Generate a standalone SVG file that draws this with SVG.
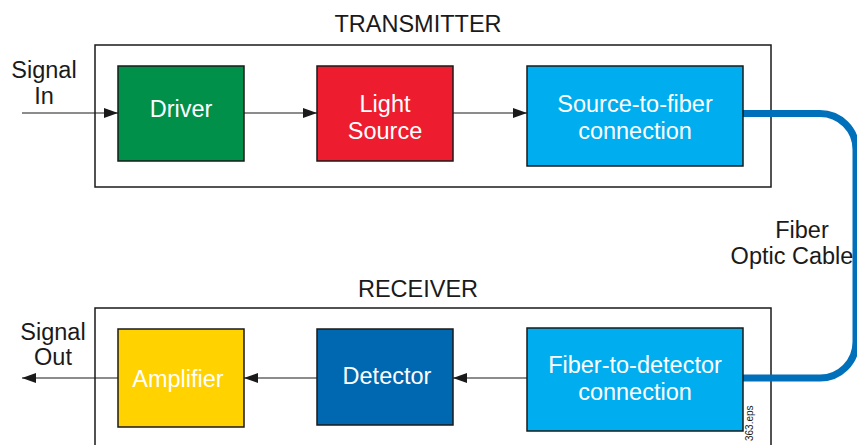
<svg xmlns="http://www.w3.org/2000/svg" width="857" height="445" viewBox="0 0 857 445">
<style>
text{font-family:"Liberation Sans",Arial,sans-serif;font-size:23.5px;fill:#1a1a1a}
.w{fill:#fff}
.frame{fill:none;stroke:#1a1a1a;stroke-width:1.5}
.box{stroke:#1a1a1a;stroke-width:1.5}
.ln{stroke:#1a1a1a;stroke-width:1.2;fill:none}
</style>
<defs>
<marker id="ah" viewBox="0 0 14 10" refX="14" refY="5" markerWidth="14" markerHeight="10" markerUnits="userSpaceOnUse" orient="auto">
<path d="M0,0 L14,5 L0,10 Z" fill="#1a1a1a"/>
</marker>
</defs>
<text x="418" y="32" text-anchor="middle">TRANSMITTER</text>
<text x="418" y="297" text-anchor="middle">RECEIVER</text>
<rect class="frame" x="95" y="45" width="676" height="142"/>
<rect class="frame" x="95" y="308" width="676" height="150"/>
<g id="connectors">
<line class="ln" x1="22" y1="113" x2="118" y2="113" marker-end="url(#ah)"/>
<line class="ln" x1="244" y1="113" x2="317" y2="113" marker-end="url(#ah)"/>
<line class="ln" x1="453" y1="113" x2="527" y2="113" marker-end="url(#ah)"/>
<line class="ln" x1="527" y1="378" x2="453" y2="378" marker-end="url(#ah)"/>
<line class="ln" x1="317" y1="378" x2="244" y2="378" marker-end="url(#ah)"/>
<line class="ln" x1="118" y1="378" x2="22" y2="378" marker-end="url(#ah)"/>
<path d="M743,113.5 H820 A36,36 0 0 1 856,149.5 V342 A36,36 0 0 1 820,378 H743" fill="none" stroke="#0070BA" stroke-width="7"/>
</g>
<g id="driver"><rect class="box" x="118" y="66" width="126" height="95" fill="#00904A"/><text class="w" x="181" y="117" text-anchor="middle">Driver</text></g>
<g id="light-source"><rect class="box" x="317" y="66" width="136" height="95" fill="#ED1C2E"/><text class="w" x="385" y="112" text-anchor="middle">Light</text><text class="w" x="385" y="139" text-anchor="middle">Source</text></g>
<g id="source-to-fiber"><rect class="box" x="527" y="66" width="216" height="100" fill="#00AEEF"/><text class="w" x="635" y="112" text-anchor="middle">Source-to-fiber</text><text class="w" x="635" y="139" text-anchor="middle">connection</text></g>
<g id="amplifier"><rect class="box" x="118" y="329" width="126" height="98" fill="#FFD200"/><text class="w" x="178" y="387" text-anchor="middle">Amplifier</text></g>
<g id="detector"><rect class="box" x="317" y="329" width="136" height="96" fill="#0067B1"/><text class="w" x="387" y="384" text-anchor="middle">Detector</text></g>
<g id="fiber-to-detector"><rect class="box" x="527" y="328" width="216" height="103" fill="#00AEEF"/><text class="w" x="635" y="373" text-anchor="middle">Fiber-to-detector</text><text class="w" x="635" y="400" text-anchor="middle">connection</text></g>
<text x="44" y="78" text-anchor="middle">Signal</text>
<text x="44" y="104" text-anchor="middle">In</text>
<text x="53" y="340" text-anchor="middle">Signal</text>
<text x="53" y="365" text-anchor="middle">Out</text>
<text x="802" y="238" text-anchor="middle">Fiber</text>
<text x="792" y="264" text-anchor="middle">Optic Cable</text>
<text x="753" y="441" style="font-size:10px" transform="rotate(-90 753 441)">363.eps</text>
</svg>
